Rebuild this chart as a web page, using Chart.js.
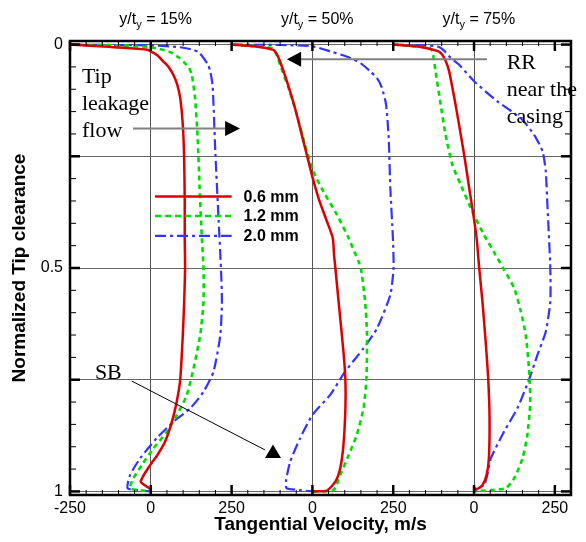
<!DOCTYPE html>
<html>
<head>
<meta charset="utf-8">
<script src="https://cdn.jsdelivr.net/npm/chart.js@4.4.0/dist/chart.umd.min.js"></script>
<style>
  html, body { margin: 0; padding: 0; background: #fff; }
  #wrap { width: 586px; height: 542px; }
</style>
</head>
<body>
<div id="wrap"><canvas id="chart" width="586" height="542"></canvas></div>
<script>
// panel layout: each y/t_y station is shifted by 500 m/s along the velocity axis
const panelOffsets = [0, 500, 1000];
const panelTitles = ['15%', '50%', '75%'];
const gapLabels = ['0.6 mm', '1.2 mm', '2.0 mm'];
const xTickValues = [-250, 0, 250, 500, 750, 1000, 1250];
const xTickLabels = ['-250', '0', '250', '0', '250', '0', '250'];
const yTickValues = [0, 0.25, 0.5, 0.75, 1];
const yTickLabels = ['0', '', '0.5', '', '1'];

// y/t_y = 15%
const vel06_15 = [-250, -130, -15, 0, 20, 39, 55, 70, 82, 91, 99, 103, 105, 105, 106, 103, 99, 91, 80, 65, 44, 20, -2, -31, 0];
const clr06_15 = [0, 0.005, 0.011, 0.015, 0.024, 0.038, 0.05, 0.068, 0.09, 0.12, 0.18, 0.25, 0.35, 0.433, 0.5, 0.58, 0.65, 0.75, 0.8, 0.845, 0.889, 0.919, 0.941, 0.978, 0.995];
const vel12_15 = [-250, -100, -10, 20, 45, 60, 85, 101, 118, 127, 137, 145, 151, 158, 163, 163, 153, 132, 111, 80, 50, 8, -28, -54, -64, -30, 0];
const clr12_15 = [0, 0.002, 0.005, 0.009, 0.013, 0.017, 0.028, 0.038, 0.052, 0.068, 0.12, 0.21, 0.32, 0.433, 0.5, 0.575, 0.65, 0.725, 0.785, 0.83, 0.866, 0.904, 0.941, 0.971, 0.993, 0.998, 1.0];
const vel20_15 = [-250, 0, 90, 132, 150, 163, 177, 184, 191, 194, 200, 210, 217, 220, 215, 194, 163, 122, 70, 18, -33, -64, -72, -40, 0];
const clr20_15 = [0, 0.002, 0.006, 0.012, 0.018, 0.03, 0.045, 0.06, 0.09, 0.135, 0.247, 0.396, 0.5, 0.575, 0.65, 0.732, 0.777, 0.814, 0.844, 0.881, 0.926, 0.963, 0.993, 0.997, 1.0];

// y/t_y = 50%
const vel06_50 = [-250, -180, -121, -110, -100, -79, -54, -33, -12, 1, 19, 45, 63, 67, 71, 81, 96, 102, 102, 96, 86, 71, 45, 0];
const clr06_50 = [0, 0.004, 0.012, 0.022, 0.038, 0.082, 0.142, 0.202, 0.262, 0.299, 0.344, 0.396, 0.433, 0.471, 0.5, 0.575, 0.687, 0.75, 0.814, 0.896, 0.948, 0.978, 0.998, 1.0];
const vel12_50 = [-250, -170, -126, -112, -100, -74, -48, -23, 3, 34, 76, 112, 143, 150, 163, 169, 167, 158, 137, 112, 86, 65, 0];
const clr12_50 = [0, 0.004, 0.008, 0.02, 0.045, 0.097, 0.157, 0.224, 0.284, 0.329, 0.381, 0.433, 0.486, 0.5, 0.575, 0.65, 0.75, 0.814, 0.874, 0.919, 0.963, 0.997, 1.0];
const vel20_50 = [-250, -100, 0, 55, 117, 150, 179, 200, 215, 228, 236, 241, 249, 251, 241, 200, 158, 101, 55, 0, -38, -69, -82, -80, -40, 0];
const clr20_50 = [0, 0.001, 0.004, 0.015, 0.03, 0.042, 0.06, 0.075, 0.097, 0.135, 0.21, 0.321, 0.433, 0.5, 0.56, 0.635, 0.68, 0.732, 0.784, 0.829, 0.881, 0.934, 0.978, 0.993, 0.997, 1.0];

// y/t_y = 75%
const vel06_75 = [-250, -180, -124, -108, -98, -87, -77, -57, -41, -29, -15, -2, 8, 16, 26, 36, 44, 48, 46, 39, 26, 5, 0];
const clr06_75 = [0, 0.004, 0.012, 0.016, 0.023, 0.038, 0.06, 0.135, 0.202, 0.254, 0.321, 0.381, 0.433, 0.5, 0.575, 0.665, 0.75, 0.836, 0.926, 0.963, 0.986, 0.997, 1.0];
const vel12_75 = [-250, -180, -135, -129, -124, -119, -103, -88, -67, -41, -5, 31, 67, 90, 124, 145, 160, 170, 174, 165, 150, 124, 98, 52, 0];
const clr12_75 = [0, 0.004, 0.008, 0.015, 0.035, 0.06, 0.135, 0.202, 0.269, 0.314, 0.374, 0.426, 0.471, 0.5, 0.545, 0.598, 0.65, 0.725, 0.8, 0.874, 0.926, 0.971, 0.993, 0.997, 1.0];
const vel20_75 = [-250, -160, -113, -95, -72, -46, 0, 72, 145, 186, 212, 222, 227, 232, 236, 236, 222, 196, 170, 134, 93, 52, 41, 31, 5, 0];
const clr20_75 = [0, 0.002, 0.004, 0.012, 0.03, 0.045, 0.082, 0.127, 0.165, 0.202, 0.239, 0.284, 0.359, 0.433, 0.5, 0.575, 0.642, 0.695, 0.75, 0.814, 0.866, 0.926, 0.963, 0.986, 0.993, 1.0];

const profiles = [
  { gap: 0, panel: 0, v: vel06_15, c: clr06_15 },
  { gap: 1, panel: 0, v: vel12_15, c: clr12_15 },
  { gap: 2, panel: 0, v: vel20_15, c: clr20_15 },
  { gap: 0, panel: 1, v: vel06_50, c: clr06_50 },
  { gap: 1, panel: 1, v: vel12_50, c: clr12_50 },
  { gap: 2, panel: 1, v: vel20_50, c: clr20_50 },
  { gap: 0, panel: 2, v: vel06_75, c: clr06_75 },
  { gap: 1, panel: 2, v: vel12_75, c: clr12_75 },
  { gap: 2, panel: 2, v: vel20_75, c: clr20_75 }
];

const gapColors = ['#dd0000', '#00dd00', '#3333ff'];
const gapDash = [[], [5, 4], [11, 4, 3, 4]];
const gapWidth = [2.5, 2.6, 2.2];

const SANS = '"Liberation Sans", Arial, sans-serif';
const SERIF = '"Liberation Serif", "Times New Roman", serif';
Chart.defaults.font.family = SANS;
Chart.defaults.color = '#000';

const datasets = profiles.map(p => ({
  label: gapLabels[p.gap],
  data: p.v.map((v, i) => ({ x: v + panelOffsets[p.panel], y: p.c[i] })),
  showLine: true,
  borderColor: gapColors[p.gap],
  borderDash: gapDash[p.gap],
  borderWidth: gapWidth[p.gap],
  pointRadius: 0,
  tension: 0.2,
  fill: false
}));

function seg(ctx, x1, y1, x2, y2) {
  ctx.beginPath();
  ctx.moveTo(x1, y1);
  ctx.lineTo(x2, y2);
  ctx.stroke();
}

function tri(ctx, pts) {
  ctx.beginPath();
  ctx.moveTo(pts[0][0], pts[0][1]);
  ctx.lineTo(pts[1][0], pts[1][1]);
  ctx.lineTo(pts[2][0], pts[2][1]);
  ctx.closePath();
  ctx.fill();
}

// frame, inward ticks, panel titles, legend and the annotations
const decorations = {
  id: 'decorations',
  afterDatasetsDraw(chart) {
    const { ctx, chartArea: a, scales: { x, y } } = chart;
    ctx.save();
    ctx.strokeStyle = '#000';
    ctx.fillStyle = '#000';

    for (let v = -250; v <= 1300; v += 50) {
      const px = x.getPixelForValue(v);
      const major = v % 250 === 0;
      ctx.lineWidth = major ? 2.5 : 1;
      const len = major ? 10 : 5;
      seg(ctx, px, a.top, px, a.top + len);
      seg(ctx, px, a.bottom, px, a.bottom - len);
    }
    for (let i = 0; i <= 20; i++) {
      const py = y.getPixelForValue(i * 0.05);
      const major = i % 5 === 0;
      ctx.lineWidth = major ? 2.5 : 1;
      const len = major ? 10 : 6;
      seg(ctx, a.left, py, a.left + len, py);
      seg(ctx, a.right, py, a.right - len, py);
    }
    ctx.lineWidth = 2.5;
    ctx.strokeRect(a.left, a.top, a.right - a.left, a.bottom - a.top);

    // station titles y/t_y = ..%
    panelOffsets.forEach((off, i) => {
      const cx = x.getPixelForValue(off + 15);
      const base = 24;
      const main = '16px ' + SANS, sub = '11px ' + SANS;
      ctx.font = main;
      const w1 = ctx.measureText('y/t').width;
      const t3 = ' = ' + panelTitles[i];
      const w3 = ctx.measureText(t3).width;
      ctx.font = sub;
      const w2 = ctx.measureText('y').width;
      let x0 = cx - (w1 + w2 + w3) / 2;
      ctx.textAlign = 'left';
      ctx.textBaseline = 'alphabetic';
      ctx.font = main;
      ctx.fillText('y/t', x0, base);
      ctx.font = sub;
      ctx.fillText('y', x0 + w1, base + 4);
      ctx.font = main;
      ctx.fillText(t3, x0 + w1 + w2, base);
    });

    // legend inside the plot
    const lx1 = x.getPixelForValue(13), lx2 = x.getPixelForValue(250);
    const legendY = [0.34, 0.3835, 0.428];
    gapLabels.forEach((lab, g) => {
      const py = y.getPixelForValue(legendY[g]);
      ctx.strokeStyle = gapColors[g];
      ctx.lineWidth = gapWidth[g];
      ctx.setLineDash(g === 1 ? [6, 4] : gapDash[g]);
      seg(ctx, lx1, py, lx2, py);
      ctx.setLineDash([]);
      ctx.font = 'bold 16px ' + SANS;
      ctx.textBaseline = 'middle';
      ctx.fillStyle = '#000';
      ctx.fillText(lab, lx2 + 12, py + 1);
    });

    // annotations
    ctx.font = '22px ' + SERIF;
    ctx.textBaseline = 'alphabetic';
    ctx.textAlign = 'left';
    ctx.fillStyle = '#000';
    const tx = x.getPixelForValue(-213), ty = y.getPixelForValue(0.086);
    ['Tip', 'leakage', 'flow'].forEach((s, i) => ctx.fillText(s, tx, ty + i * 27));
    const rx = x.getPixelForValue(1101), ry = y.getPixelForValue(0.0557);
    ['RR', 'near the', 'casing'].forEach((s, i) => ctx.fillText(s, rx, ry + i * 27));
    ctx.fillText('SB', x.getPixelForValue(-173), y.getPixelForValue(0.748));

    ctx.strokeStyle = '#808080';
    ctx.lineWidth = 2;
    // tip leakage arrow (to the right)
    let ay = y.getPixelForValue(0.188);
    let ax1 = x.getPixelForValue(-55), ax2 = x.getPixelForValue(230), at = x.getPixelForValue(276);
    seg(ctx, ax1, ay, ax2, ay);
    ctx.fillStyle = '#000';
    tri(ctx, [[at, ay], [ax2, ay - 7.5], [ax2, ay + 7.5]]);
    // RR arrow (to the left)
    ay = y.getPixelForValue(0.033);
    ax1 = x.getPixelForValue(1040); ax2 = x.getPixelForValue(465); at = x.getPixelForValue(421);
    seg(ctx, ax1, ay, ax2, ay);
    tri(ctx, [[at, ay], [ax2, ay - 7.5], [ax2, ay + 7.5]]);
    // SB leader with upright marker
    ctx.strokeStyle = '#000';
    ctx.lineWidth = 1;
    seg(ctx, x.getPixelForValue(-59), y.getPixelForValue(0.753), x.getPixelForValue(353), y.getPixelForValue(0.907));
    const sx = x.getPixelForValue(378), sTop = y.getPixelForValue(0.895), sBot = y.getPixelForValue(0.925);
    tri(ctx, [[sx, sTop], [sx - 8, sBot], [sx + 8, sBot]]);

    ctx.restore();
  }
};

new Chart(document.getElementById('chart').getContext('2d'), {
  type: 'scatter',
  data: { datasets },
  options: {
    responsive: false,
    animation: false,
    devicePixelRatio: 1,
    layout: { padding: { top: 41, right: 15, left: 0, bottom: 0 } },
    plugins: {
      legend: { display: false },
      tooltip: { enabled: false }
    },
    scales: {
      x: {
        type: 'linear',
        min: -250,
        max: 1300,
        afterBuildTicks: scale => { scale.ticks = xTickValues.map(v => ({ value: v })); },
        afterFit: scale => { scale.height = 47; },
        ticks: {
          autoSkip: false,
          maxRotation: 0,
          padding: 4,
          font: { size: 16 },
          callback: (val, idx) => xTickLabels[idx]
        },
        grid: {
          drawTicks: false,
          lineWidth: 1,
          color: c => (c.tick && panelOffsets.includes(c.tick.value)) ? '#555' : 'rgba(0,0,0,0)'
        },
        border: { display: false },
        title: {
          display: true,
          text: 'Tangential Velocity, m/s',
          font: { size: 19, weight: 'bold' },
          padding: { top: 0, bottom: 6 }
        }
      },
      y: {
        type: 'linear',
        reverse: true,
        min: -0.008,
        max: 1.008,
        afterBuildTicks: scale => { scale.ticks = yTickValues.map(v => ({ value: v })); },
        afterFit: scale => { scale.width = 70; },
        ticks: {
          autoSkip: false,
          padding: 7,
          font: { size: 16 },
          callback: (val, idx) => yTickLabels[idx]
        },
        grid: {
          drawTicks: false,
          lineWidth: 1,
          color: '#666'
        },
        border: { display: false },
        title: {
          display: true,
          text: 'Normalized Tip clearance',
          font: { size: 19, weight: 'bold' },
          padding: { top: 8, bottom: 0 }
        }
      }
    }
  },
  plugins: [decorations]
});
</script>
</body>
</html>
